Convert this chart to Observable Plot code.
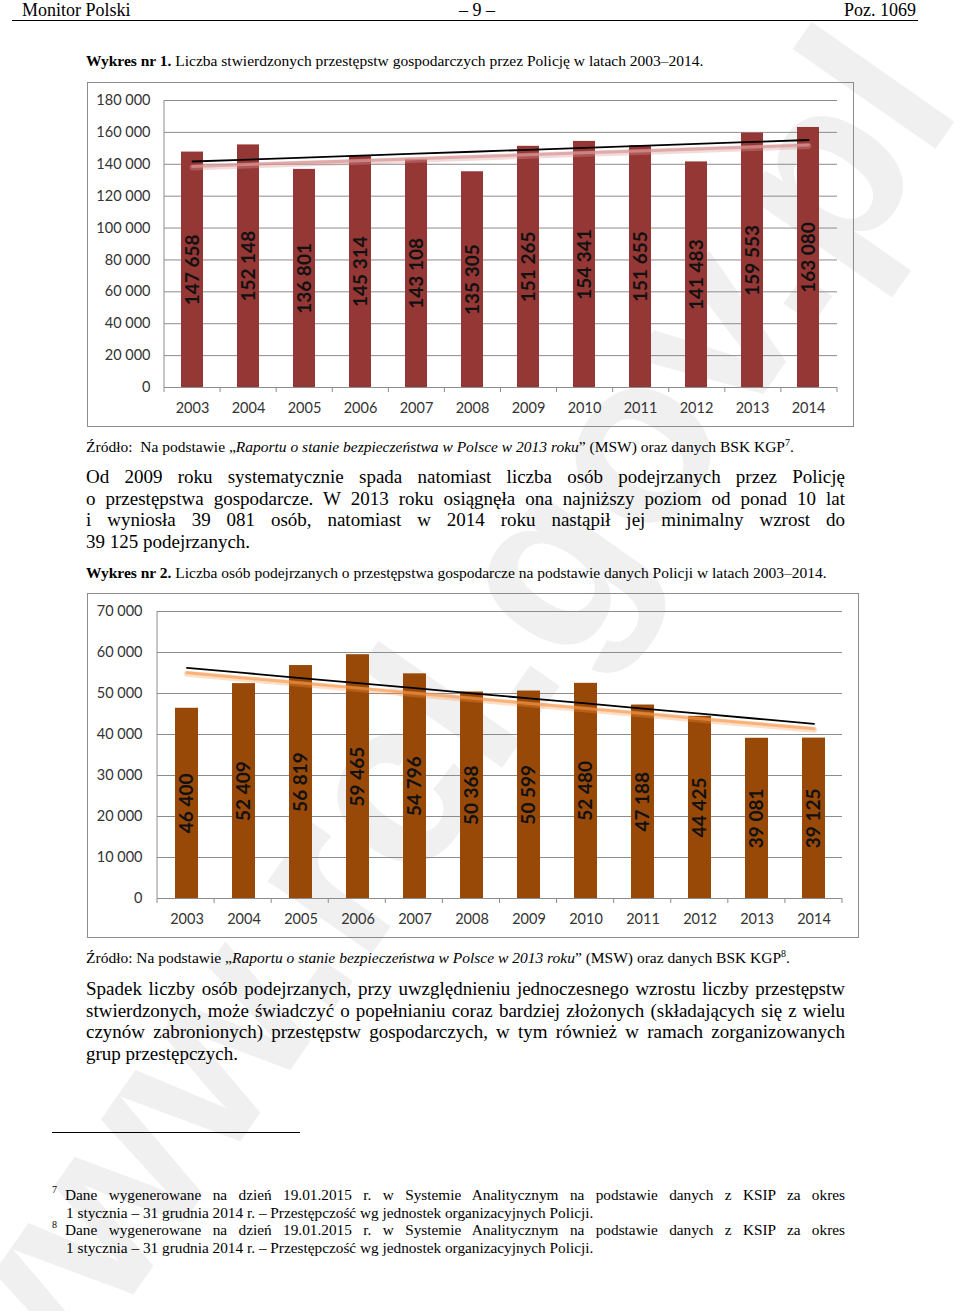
<!DOCTYPE html>
<html lang="pl">
<head>
<meta charset="utf-8">
<script src="https://cdn.jsdelivr.net/npm/d3@7"></script>
<script src="https://cdn.jsdelivr.net/npm/@observablehq/plot@0.6"></script>
<style>
  html, body { margin: 0; padding: 0; background: #fff; }
  #page { position: relative; width: 960px; height: 1311px; overflow: hidden;
          font-family: "Liberation Serif", "Times New Roman", serif; color: #000; }
  .t { position: absolute; white-space: nowrap; }
  .j { position: absolute; white-space: nowrap; text-align: justify; text-align-last: justify; }
  .frame { position: absolute; box-sizing: border-box; border: 1.5px solid #8c8c8c; }
  .chart { position: absolute; }
  .chart svg { overflow: visible; }
  .sup { font-size: 10px; position: relative; top: -6px; }
  .fsup { position: absolute; font-size: 10px; }
</style>
</head>
<body>
<div id="page">
  <svg width="960" height="1311" style="position:absolute;left:0;top:0">
    <text transform="translate(964,108) rotate(-55)" text-anchor="end"
          font-family="Liberation Sans, Arial, sans-serif" font-weight="bold"
          font-size="240" fill="#f0f0f0">www.rcl.gov.pl</text>
  </svg>

  <div class="t" style="left:22px;top:1px;font-size:18px;line-height:18px">Monitor Polski</div>
  <div class="t" style="left:427px;width:100px;text-align:center;top:1px;font-size:18px;line-height:18px">– 9 –</div>
  <div class="t" style="right:44px;top:1px;font-size:18px;line-height:18px">Poz. 1069</div>
  <div style="position:absolute;left:12px;width:906px;top:20px;height:0;border-top:1.5px solid #000"></div>

  <div class="t" style="left:86px;top:53px;font-size:15.5px;line-height:15.5px"><b>Wykres nr 1.</b> Liczba stwierdzonych przestępstw gospodarczych przez Policję w latach 2003–2014.</div>

  <div class="frame" style="left:87px;top:82px;width:767px;height:345px"></div>
  <div class="chart" id="chart1" style="left:87px;top:82px"></div>

  <div class="t" style="left:86px;top:439px;font-size:15.5px;line-height:15.5px">Źródło:&nbsp; Na podstawie „<i>Raportu o stanie bezpieczeństwa w Polsce w 2013 roku</i>” (MSW) oraz danych BSK KGP<span class="sup">7</span>.</div>

  <div class="j" style="left:86px;width:759px;top:467.1px;font-size:19px;line-height:19px">Od 2009 roku systematycznie spada natomiast liczba osób podejrzanych przez Policję</div>
  <div class="j" style="left:86px;width:759px;top:489.1px;font-size:19px;line-height:19px">o przestępstwa gospodarcze. W 2013 roku osiągnęła ona najniższy poziom od ponad 10 lat</div>
  <div class="j" style="left:86px;width:759px;top:510.1px;font-size:19px;line-height:19px">i wyniosła 39 081 osób, natomiast w 2014 roku nastąpił jej minimalny wzrost do</div>
  <div class="t" style="left:86px;top:532.1px;font-size:19px;line-height:19px">39 125 podejrzanych.</div>

  <div class="t" style="left:86px;top:565px;font-size:15.5px;line-height:15.5px"><b>Wykres nr 2.</b> Liczba osób podejrzanych o przestępstwa gospodarcze na podstawie danych Policji w latach 2003–2014.</div>

  <div class="frame" style="left:87px;top:593px;width:772px;height:345px"></div>
  <div class="chart" id="chart2" style="left:87px;top:593px"></div>

  <div class="t" style="left:86px;top:950px;font-size:15.5px;line-height:15.5px">Źródło: Na podstawie „<i>Raportu o stanie bezpieczeństwa w Polsce w 2013 roku</i>” (MSW) oraz danych BSK KGP<span class="sup">8</span>.</div>

  <div class="j" style="left:86px;width:759px;top:979.1px;font-size:19px;line-height:19px">Spadek liczby osób podejrzanych, przy uwzględnieniu jednoczesnego wzrostu liczby przestępstw</div>
  <div class="j" style="left:86px;width:759px;top:1001.1px;font-size:19px;line-height:19px">stwierdzonych, może świadczyć o popełnianiu coraz bardziej złożonych (składających się z wielu</div>
  <div class="j" style="left:86px;width:759px;top:1022.1px;font-size:19px;line-height:19px">czynów zabronionych) przestępstw gospodarczych, w tym również w ramach zorganizowanych</div>
  <div class="t" style="left:86px;top:1044.1px;font-size:19px;line-height:19px">grup przestępczych.</div>

  <div style="position:absolute;left:52px;width:248px;top:1132px;height:0;border-top:1.2px solid #000"></div>

  <div class="fsup" style="left:52px;top:1184px">7</div>
  <div class="j" style="left:65px;width:780px;top:1187px;font-size:15.3px;line-height:15.3px">Dane wygenerowane na dzień 19.01.2015 r. w Systemie Analitycznym na podstawie danych z KSIP za okres</div>
  <div class="t" style="left:66px;top:1205px;font-size:15.3px;line-height:15.3px">1 stycznia – 31 grudnia 2014 r. – Przestępczość wg jednostek organizacyjnych Policji.</div>
  <div class="fsup" style="left:52px;top:1219px">8</div>
  <div class="j" style="left:65px;width:780px;top:1222px;font-size:15.3px;line-height:15.3px">Dane wygenerowane na dzień 19.01.2015 r. w Systemie Analitycznym na podstawie danych z KSIP za okres</div>
  <div class="t" style="left:66px;top:1240px;font-size:15.3px;line-height:15.3px">1 stycznia – 31 grudnia 2014 r. – Przestępczość wg jednostek organizacyjnych Policji.</div>
</div>

<script>
// ---- data ----
const years = ["2003","2004","2005","2006","2007","2008","2009","2010","2011","2012","2013","2014"];
const crimes = [147658,152148,136801,145314,143108,135305,151265,154341,151655,141483,159553,163080];
const suspects = [46400,52409,56819,59465,54796,50368,50599,52480,47188,44425,39081,39125];
const ticks1 = [0,20000,40000,60000,80000,100000,120000,140000,160000,180000];
const ticks2 = [0,10000,20000,30000,40000,50000,60000,70000];

const fmt = v => d3.format(",")(v).replace(/,/g, " ");

// least-squares linear trend from the data
function trendOf(values) {
  const xs = values.map((_, i) => i);
  const mx = d3.mean(xs), my = d3.mean(values);
  let sxy = 0, sxx = 0;
  xs.forEach((x, i) => { sxy += (x - mx) * (values[i] - my); sxx += (x - mx) ** 2; });
  const b = sxy / sxx, a = my - b * mx;
  return xs.map(x => a + b * x);
}

// y-axis line and category boundary ticks
const axisLines = (index, scales, values, dims) => {
  const {width, height, marginLeft, marginRight, marginTop, marginBottom} = dims;
  const g = d3.create("svg:g").attr("stroke", "#8c8c8c").attr("stroke-width", 1);
  const n = years.length;
  const step = (width - marginLeft - marginRight) / n;
  const y0 = height - marginBottom;
  g.append("line").attr("x1", marginLeft).attr("x2", marginLeft).attr("y1", marginTop).attr("y2", y0 + 5);
  for (let i = 1; i <= n; i++) {
    const x = marginLeft + i * step;
    g.append("line").attr("x1", x).attr("x2", x).attr("y1", y0).attr("y2", y0 + 5);
  }
  return g.node();
};

function makeChart({values, ticks, max, color, shadow, shadowOpacity, width, marginLeft, marginRight, tickPadY}) {
  const data = years.map((year, i) => ({year, value: values[i]}));
  const trend = trendOf(values).map((v, i) => ({year: years[i], value: v}));
  return Plot.plot({
    width, height: 345,
    marginLeft, marginRight, marginTop: 18, marginBottom: 40,
    style: {fontFamily: "Lato, 'Open Sans', sans-serif", fontSize: "14.5px", color: "#333", background: "transparent", overflow: "visible"},
    x: {domain: years, paddingInner: 0.6, paddingOuter: 0.3, tickSize: 0, tickPadding: 15, label: null},
    y: {domain: [0, max], ticks, tickFormat: fmt, tickSize: 0, tickPadding: tickPadY, label: null},
    marks: [
      Plot.ruleY(ticks, {stroke: "#8c8c8c", strokeWidth: 1}),
      axisLines,
      Plot.barY(data, {x: "year", y: "value", fill: color}),
      Plot.line(trend, {x: "year", y: "value", stroke: shadow, strokeWidth: 6, strokeOpacity: shadowOpacity * 0.5, dy: 6}),
      Plot.line(trend, {x: "year", y: "value", stroke: shadow, strokeWidth: 3, strokeOpacity: shadowOpacity, dy: 5}),
      Plot.line(trend, {x: "year", y: "value", stroke: "#000", strokeWidth: 1.8}),
      Plot.text(data, {x: "year", y: d => d.value / 2, text: d => fmt(d.value), rotate: -90,
                       fontSize: 19, fontWeight: "bold", fontFamily: "Lato, 'Open Sans', sans-serif", fill: "#111"})
    ]
  });
}

document.getElementById("chart1").append(makeChart({
  values: crimes, ticks: ticks1, max: 180000, color: "#953735", shadow: "#d99694", shadowOpacity: 0.7,
  width: 767, marginLeft: 77, marginRight: 17, tickPadY: 14
}));
document.getElementById("chart2").append(makeChart({
  values: suspects, ticks: ticks2, max: 70000, color: "#984807", shadow: "#f79646", shadowOpacity: 0.6,
  width: 772, marginLeft: 70, marginRight: 17, tickPadY: 15
}));
</script>
</body>
</html>
